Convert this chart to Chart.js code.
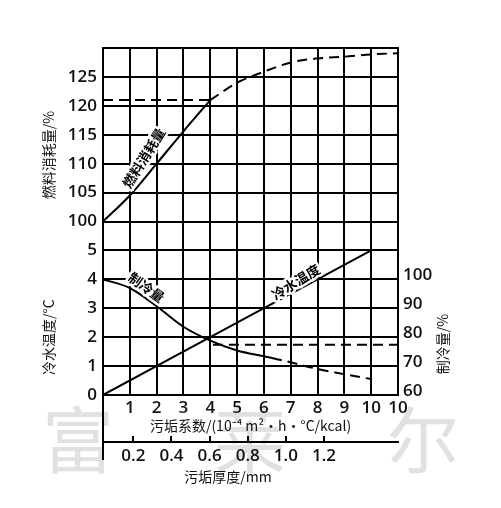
<!DOCTYPE html>
<html>
<head>
<meta charset="utf-8">
<script src="https://cdn.jsdelivr.net/npm/chart.js@4/dist/chart.umd.min.js"></script>
<style>
  html, body { margin: 0; padding: 0; background: #fff; }
</style>
</head>
<body>
<canvas id="chart" width="501" height="508"></canvas>
<script>
// fouling factor columns, 10^-4 m2·h·°C/kcal (last column is labelled 10 again, as in the source)
const foulingTicks = [0, 1, 2, 3, 4, 5, 6, 7, 8, 9, 10, 11];
const foulingTickLabels = ['', '1', '2', '3', '4', '5', '6', '7', '8', '9', '10', '10'];
// fouling thickness, mm
const thicknessTicks = [0.2, 0.4, 0.6, 0.8, 1.0, 1.2];

// left axis rows: 0-5 are °C, the rows above are fuel %
const leftTickLabels = ['0', '1', '2', '3', '4', '5', '100', '105', '110', '115', '120', '125', ''];
// right axis, cooling capacity %
const coolTicks = [60, 70, 80, 90, 100];

// fuel consumption, %
const fuelX = [0, 1, 2, 3, 4];
const fuelPct = [100, 104.5, 110, 115.6, 121];
const fuelDashX = [4, 5, 6, 7, 8, 9, 10, 11];
const fuelDashPct = [121, 124, 125.9, 127.5, 128.2, 128.5, 128.9, 129.1];
const fuelRefX = [0, 4];
const fuelRefPct = [121, 121];

// chilled water temperature, °C
const waterX = [0, 10];
const waterTemp = [0, 5];

// cooling capacity, %
const coolX = [0, 1, 2, 3, 4, 5, 6, 6.3];
const coolPct = [100, 97, 90.7, 83.6, 78.8, 75.4, 73.4, 72.8];
const coolDashX = [6.3, 7, 8, 9, 10];
const coolDashPct = [72.8, 71.3, 69, 67.2, 65.5];
const coolRefX = [4.1, 11];
const coolRefPct = [77.4, 77.4];

const pts = (xs, ys) => xs.map((x, i) => ({ x, y: ys[i] }));
const DASH = [10, 6];
const CJK = "'Noto Sans CJK SC', 'Noto Sans', sans-serif";
const NUM = "'Open Sans', 'Noto Sans', sans-serif";

function line(data, axis, dashed) {
    return {
        data,
        yAxisID: axis,
        borderColor: '#000',
        borderWidth: 2,
        borderDash: dashed ? DASH : [],
        pointRadius: 0,
        fill: false,
        cubicInterpolationMode: 'monotone'
    };
}

const decorations = {
    id: 'decorations',
    beforeDraw(chart) {
        const { ctx } = chart;
        // faint watermark text of the source picture
        ctx.save();
        ctx.fillStyle = 'rgba(200,200,200,0.55)';
        ctx.font = `72px ${CJK}`;
        ctx.textAlign = 'center';
        ctx.textBaseline = 'middle';
        ctx.fillText('富', 78, 440);
        ctx.fillText('莱', 250, 440);
        ctx.fillText('尔', 423, 440);
        ctx.restore();
    },
    afterDraw(chart) {
        const { ctx, chartArea } = chart;
        const { x, x2, y, yCool } = chart.scales;
        ctx.save();

        // left border runs on past the thickness axis
        ctx.strokeStyle = '#000';
        ctx.lineWidth = 2;
        ctx.beginPath();
        ctx.moveTo(chartArea.left, chartArea.bottom);
        ctx.lineTo(chartArea.left, x2.top + 18);
        ctx.stroke();

        ctx.fillStyle = '#111';
        ctx.textAlign = 'center';
        ctx.textBaseline = 'middle';

        // thickness axis title (sits left of centre in the source)
        ctx.font = `14px ${CJK}`;
        ctx.fillText('污垢厚度/mm', x2.left + 125, x2.top + 35);

        // rotated axis titles
        const vTitle = (text, px, py) => {
            ctx.save();
            ctx.translate(px, py);
            ctx.rotate(-Math.PI / 2);
            ctx.fillText(text, 0, 0);
            ctx.restore();
        };
        vTitle('燃料消耗量/%', y.left + 49, y.getPixelForValue(8.3));
        vTitle('冷水温度/°C', y.left + 49, y.getPixelForValue(2.0));
        vTitle('制冷量/%', yCool.left + 45, y.getPixelForValue(1.76));

        // curve labels
        ctx.font = `bold 13.5px ${CJK}`;
        const curveLabel = (text, xv, yv, deg) => {
            ctx.save();
            ctx.translate(x.getPixelForValue(xv), y.getPixelForValue(yv));
            ctx.rotate(deg * Math.PI / 180);
            ctx.lineWidth = 5;
            ctx.strokeStyle = '#fff';
            ctx.lineJoin = 'round';
            ctx.strokeText(text, 0, 0);
            ctx.fillStyle = '#000';
            ctx.fillText(text, 0, 0);
            ctx.restore();
        };
        curveLabel('燃料消耗量', 1.52, 8.2, -58);
        curveLabel('制冷量', 1.62, 3.72, 36);
        curveLabel('冷水温度', 7.19, 3.91, -32);

        ctx.restore();
    }
};

const gridStyle = { color: '#000', lineWidth: 2, drawTicks: false };
const borderStyle = { display: true, color: '#000', width: 2 };

new Chart(document.getElementById('chart'), {
    type: 'line',
    data: {
        datasets: [
            line(pts(fuelRefX, fuelRefPct), 'yFuel', true),
            line(pts(fuelX, fuelPct), 'yFuel', false),
            line(pts(fuelDashX, fuelDashPct), 'yFuel', true),
            line(pts(waterX, waterTemp), 'y', false),
            line(pts(coolRefX, coolRefPct), 'yCool', true),
            line(pts(coolX, coolPct), 'yCool', false),
            line(pts(coolDashX, coolDashPct), 'yCool', true)
        ]
    },
    options: {
        responsive: false,
        animation: false,
        devicePixelRatio: 1,
        layout: { padding: { top: 48, left: 0, right: 0, bottom: 0 } },
        plugins: { legend: { display: false }, tooltip: { enabled: false } },
        scales: {
            x: {
                type: 'linear',
                position: 'bottom',
                weight: 0,
                min: 0,
                max: 11,
                afterBuildTicks: s => { s.ticks = foulingTicks.map(v => ({ value: v })); },
                afterFit: s => { s.height = 47; },
                grid: gridStyle,
                border: borderStyle,
                ticks: {
                    padding: 3,
                    color: '#111',
                    font: { family: NUM, size: 17, weight: '600' },
                    maxRotation: 0,
                    autoSkip: false,
                    callback: (v, i) => foulingTickLabels[i]
                },
                title: {
                    display: true,
                    text: '污垢系数/(10⁻⁴ m²·h·°C/kcal)',
                    color: '#111',
                    font: { family: CJK, size: 14 },
                    padding: { top: 0, bottom: 8 }
                }
            },
            x2: {
                type: 'linear',
                position: 'bottom',
                weight: 1,
                min: 0.041,
                max: 1.588,
                afterBuildTicks: s => { s.ticks = thicknessTicks.map(v => ({ value: v })); },
                afterFit: s => { s.height = 66; },
                grid: { drawOnChartArea: false, drawTicks: true, tickLength: -6, color: '#000', lineWidth: 2 },
                border: borderStyle,
                ticks: {
                    padding: 10,
                    color: '#111',
                    font: { family: NUM, size: 17, weight: '600' },
                    maxRotation: 0,
                    autoSkip: false,
                    callback: v => v.toFixed(1)
                }
            },
            y: {
                type: 'linear',
                position: 'left',
                min: 0,
                max: 12,
                afterBuildTicks: s => { s.ticks = leftTickLabels.map((t, i) => ({ value: i })); },
                afterFit: s => { s.width = 103; },
                grid: gridStyle,
                border: borderStyle,
                ticks: {
                    padding: 6,
                    color: '#111',
                    font: { family: NUM, size: 17, weight: '600' },
                    autoSkip: false,
                    callback: (v, i) => leftTickLabels[i]
                }
            },
            yFuel: {
                type: 'linear',
                display: false,
                min: 70,
                max: 130
            },
            yCool: {
                type: 'linear',
                position: 'right',
                min: 60,
                max: 180,
                afterBuildTicks: s => { s.ticks = coolTicks.map(v => ({ value: v })); },
                afterFit: s => { s.width = 103; },
                grid: { drawOnChartArea: false, drawTicks: false },
                border: borderStyle,
                ticks: {
                    padding: 5,
                    labelOffset: -4,
                    color: '#111',
                    font: { family: NUM, size: 17, weight: '600' },
                    autoSkip: false,
                    callback: v => String(v)
                }
            }
        }
    },
    plugins: [decorations]
});
</script>
</body>
</html>
